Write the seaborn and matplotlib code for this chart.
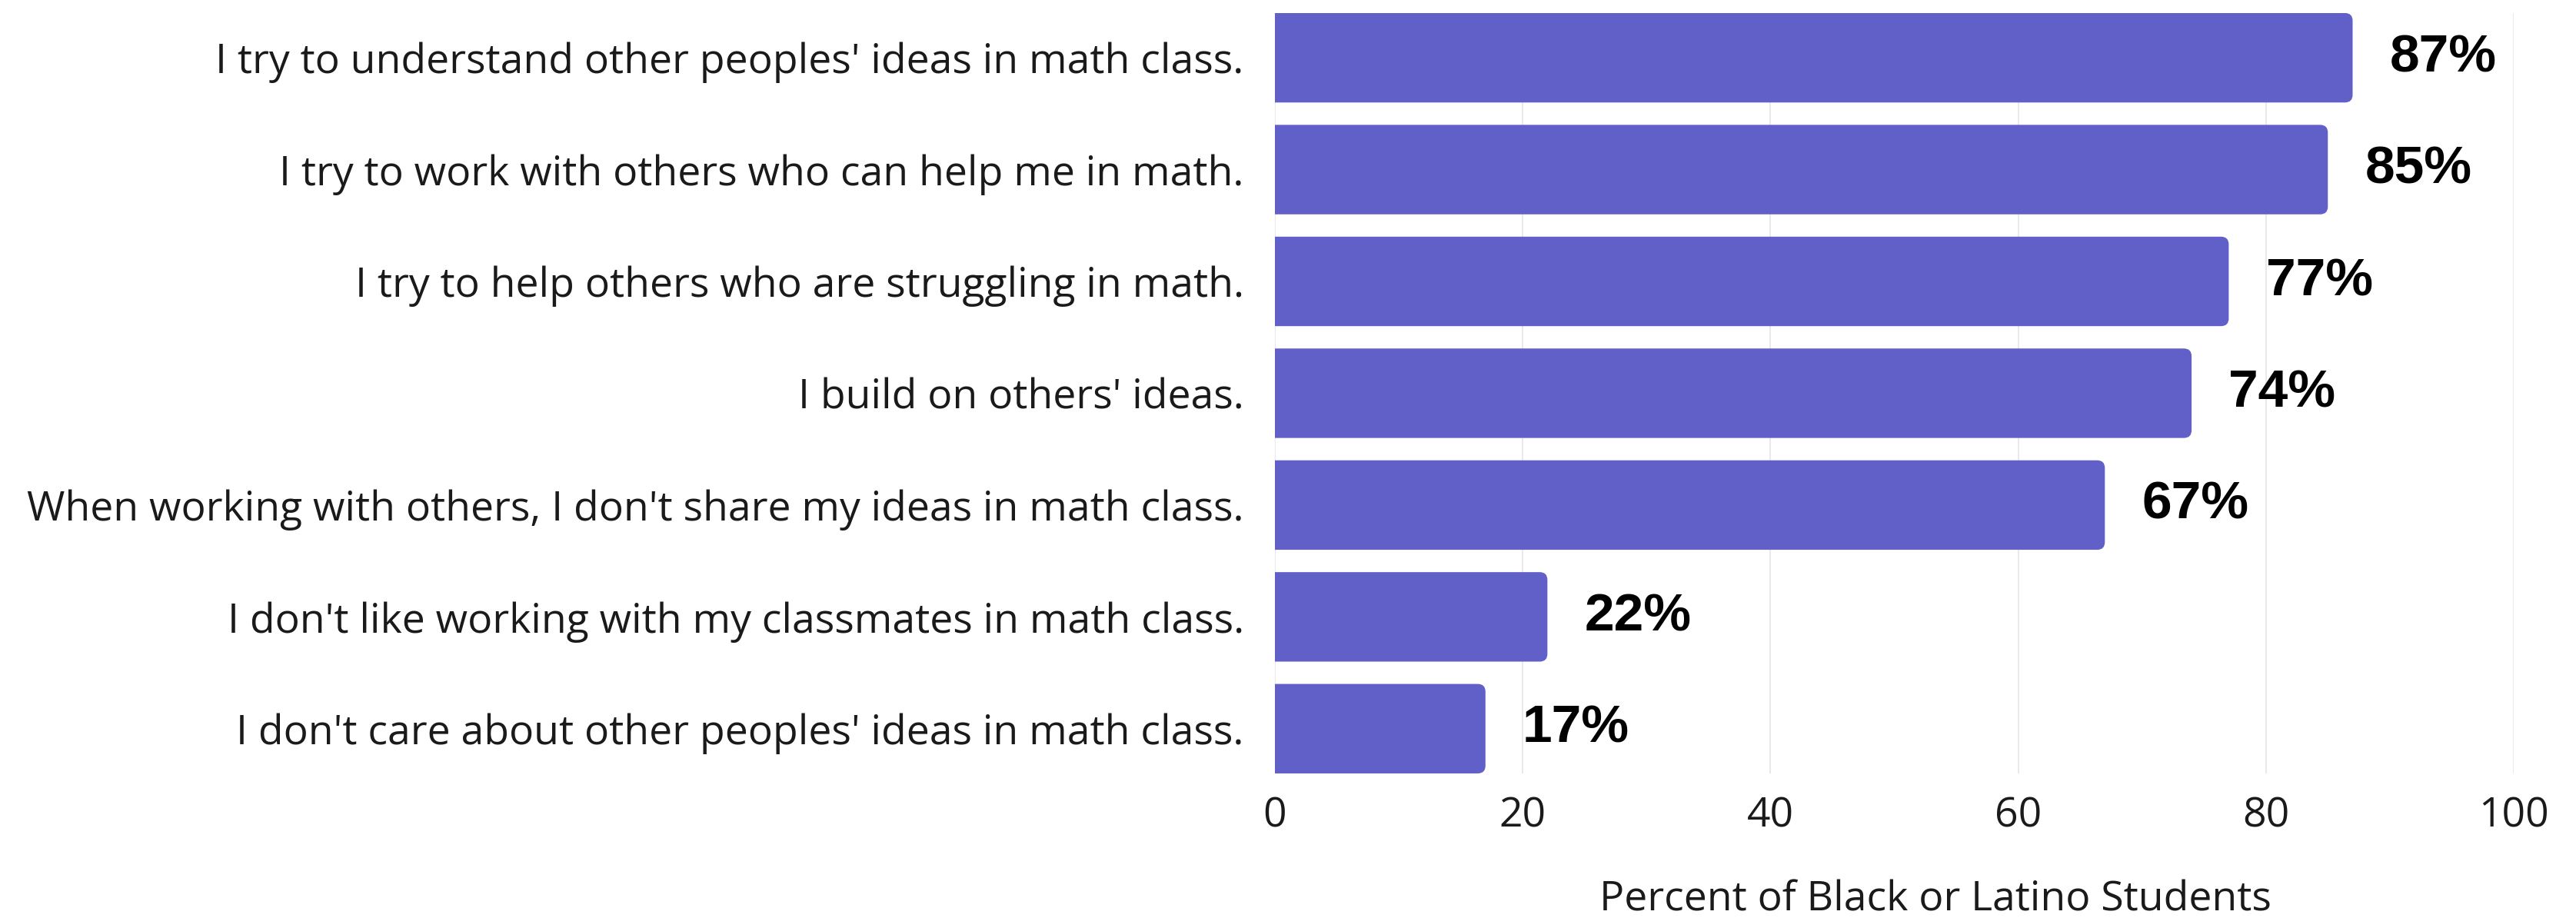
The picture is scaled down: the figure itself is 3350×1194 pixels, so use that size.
import matplotlib
matplotlib.use("Agg")
import matplotlib.pyplot as plt
import pandas as pd
import seaborn as sns
from matplotlib.patches import FancyBboxPatch

statements = [
    "I try to understand other peoples' ideas in math class.",
    "I try to work with others who can help me in math.",
    "I try to help others who are struggling in math.",
    "I build on others' ideas.",
    "When working with others, I don't share my ideas in math class.",
    "I don't like working with my classmates in math class.",
    "I don't care about other peoples' ideas in math class.",
]
percents = [87, 85, 77, 74, 67, 22, 17]
x_ticks = [0, 20, 40, 60, 80, 100]

BAR_COLOR = "#615fc8"

df = pd.DataFrame({"statement": statements, "percent": percents})

sns.set_theme(style="white")
plt.rcParams["font.family"] = ["Open Sans", "DejaVu Sans"]

fig, ax = plt.subplots(figsize=(33.5, 11.94), dpi=100)
fig.subplots_adjust(left=0.4949, right=0.9758, top=0.9858, bottom=0.1575)

sns.barplot(data=df, y="statement", x="percent", color=BAR_COLOR,
            saturation=1, width=0.8, orient="h", ax=ax)

ax.set_xlim(0, 100)
ax.set_ylim(6.4, -0.4)

# swap the square bars for ones with rounded right corners
x_px = 1611 / 100
y_px = 989 / 6.8
radius = 10 / x_px
for bar in list(ax.patches):
    x0, y0 = bar.get_x(), bar.get_y()
    w, h = bar.get_width(), bar.get_height()
    bar.set_visible(False)
    rounded = FancyBboxPatch((x0 - 2, y0), w + 2, h,
                             boxstyle=f"round,pad=0,rounding_size={radius}",
                             mutation_aspect=x_px / y_px,
                             facecolor=BAR_COLOR, edgecolor="none", zorder=3)
    ax.add_patch(rounded)

for i, val in enumerate(percents):
    ax.text(val + 3.0, i, f"{val}%", va="center", ha="left",
            fontsize=50, fontweight="bold", family="Liberation Sans",
            color="black", zorder=4)

ax.set_xticks(x_ticks)
ax.grid(axis="x", color="#e5e5e5", linewidth=1.2, zorder=0)
ax.set_axisbelow(True)
for side in ["top", "right", "bottom", "left"]:
    ax.spines[side].set_visible(False)

ax.tick_params(axis="y", length=0, pad=29, labelsize=38.5, labelcolor="#1a1a1a")
ax.tick_params(axis="x", length=0, pad=21, labelsize=38.5, labelcolor="#1a1a1a")

ax.set_ylabel("")
ax.set_xlabel("Percent of Black or Latino Students", fontsize=38.5, color="#1a1a1a")
ax.xaxis.set_label_coords(0.533, -0.167)
ax.xaxis.label.set_va("center")

fig.savefig("out.png", dpi=100)
